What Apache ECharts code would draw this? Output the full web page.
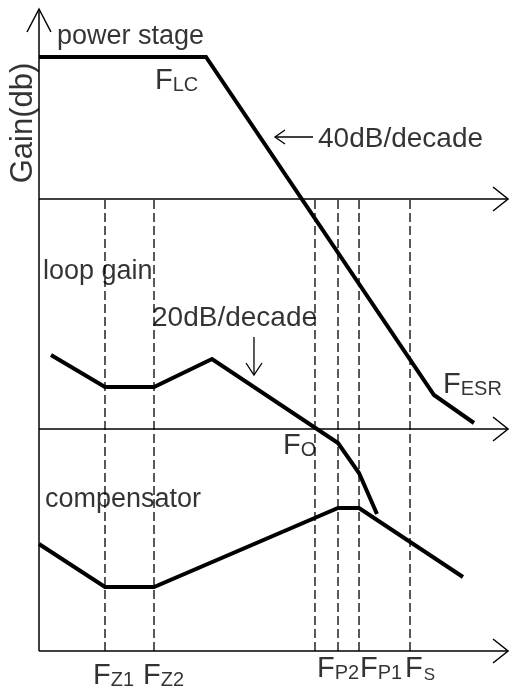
<!DOCTYPE html>
<html>
<head>
<meta charset="utf-8">
<script src="https://cdn.jsdelivr.net/npm/echarts@6/dist/echarts.min.js"></script>
<style>
html, body { margin: 0; padding: 0; background: #fff; }
#chart { width: 510px; height: 690px; }
</style>
</head>
<body>
<div id="chart"></div>
<script>
// x: log-frequency units (0 = gain axis), y: gain units (0 = lowest freq axis)
var breakFreqs = [1.404, 2.447, 5.872, 6.362, 6.809, 7.894]; // Fz1 Fz2 Fo Fp2 Fp1 Fs
var axisLevels = [45.2, 22.2, 0];
var axisEnd = 9.98;
var gainAxisTop = 64.1;

var powerStage = [[0, 59.4], [3.553, 59.4], [8.404, 25.6], [9.255, 22.8]];
var loopGain = [[0.255, 29.6], [1.404, 26.4], [2.447, 26.4], [3.681, 29.2], [6.362, 20.8], [6.809, 17.8], [7.191, 13.7]];
var compensator = [[0, 10.7], [1.404, 6.4], [2.447, 6.4], [6.362, 14.3], [6.809, 14.3], [9.021, 7.4]];

var plainLabels = ['power stage', 'loop gain', 'compensator', '40dB/decade', '20dB/decade'];
var freqLabels = [['F', 'LC'], ['F', 'ESR'], ['F', 'O'], ['F', 'Z1'], ['F', 'Z2'], ['F', 'P2'], ['F', 'P1'], ['F', 'S']];

// where the texts sit (data units)
var plainLabelAt = [[0.383, 61.4], [0.085, 37.9], [0.128, 15.1], [5.936, 51.2], [2.404, 33.3]];
var freqLabelAt = [[2.468, 57.0], [8.596, 26.6], [5.191, 20.5], [1.149, -2.5], [2.213, -2.5], [5.915, -1.8], [6.830, -1.8], [7.787, -1.8]];

var font = '"Liberation Sans", Arial, Helvetica, sans-serif';

var chart = echarts.init(document.getElementById('chart'));

var line = function(data, width, type) {
    return {
        type: 'line',
        data: data,
        showSymbol: false,
        symbol: 'none',
        silent: true,
        animation: false,
        clip: false,
        lineStyle: {color: '#000', width: width, type: type || 'solid', join: 'miter'}
    };
};

var series = [];

// axes
series.push(line([[0, 0], [0, gainAxisTop]], 1.5));
series.push(line([[-0.255, 61.9], [0, gainAxisTop + 0.1], [0.255, 61.9]], 1.5));
axisLevels.forEach(function(lv) {
    series.push(line([[0, lv], [axisEnd, lv]], 1.5));
    series.push(line([[axisEnd - 0.32, lv + 1.2], [axisEnd, lv], [axisEnd - 0.32, lv - 1.2]], 1.5));
});

// break frequencies
breakFreqs.forEach(function(f) {
    series.push(line([[f, 0], [f, axisLevels[0]]], 1.3, [9, 4]));
});

// slope arrows
series.push(line([[5.830, 51.4], [5.021, 51.4]], 1.3));
series.push(line([[5.234, 52.1], [5.021, 51.4], [5.234, 50.7]], 1.3));
series.push(line([[4.574, 31.4], [4.574, 27.6]], 1.3));
series.push(line([[4.404, 28.8], [4.574, 27.6], [4.745, 28.8]], 1.3));

// curves
series.push(line(powerStage, 4));
series.push(line(loopGain, 4));
series.push(line(compensator, 4));

// texts
var textData = [];
plainLabels.forEach(function(t, i) {
    textData.push({
        value: plainLabelAt[i],
        label: {formatter: t, fontSize: i >= 3 ? 28 : 27}
    });
});
freqLabels.forEach(function(t, i) {
    var sub = t[1] == 'S' ? 's2' : 's';
    textData.push({
        value: freqLabelAt[i],
        label: {formatter: '{F|' + t[0] + '}{' + sub + '|' + t[1] + '}'}
    });
});
textData.push({
    value: [-0.33, 52.8],
    label: {formatter: 'Gain(db)', position: 'inside', rotate: 90, fontSize: 31}
});

series.push({
    type: 'scatter',
    data: textData,
    symbolSize: 0,
    silent: true,
    animation: false,
    clip: false,
    label: {
        show: true,
        position: 'right',
        distance: 0,
        color: '#000',
        fontFamily: font,
        fontSize: 27,
        rich: {
            F: {fontSize: 29, fontFamily: font, color: '#000'},
            s: {fontSize: 20, fontFamily: font, color: '#000', verticalAlign: 'bottom', padding: [4, 0, 0, 0]},
            s2: {fontSize: 17, fontFamily: font, color: '#000', verticalAlign: 'bottom', padding: [4, 0, 0, 1]}
        }
    }
});

chart.setOption({
    backgroundColor: '#fff',
    animation: false,
    grid: {left: 0, right: 0, top: 0, bottom: 0},
    xAxis: {type: 'value', min: -39 / 47, max: 471 / 47, show: false},
    yAxis: {type: 'value', min: -3.9, max: 65.1, show: false},
    series: series
});
</script>
</body>
</html>
